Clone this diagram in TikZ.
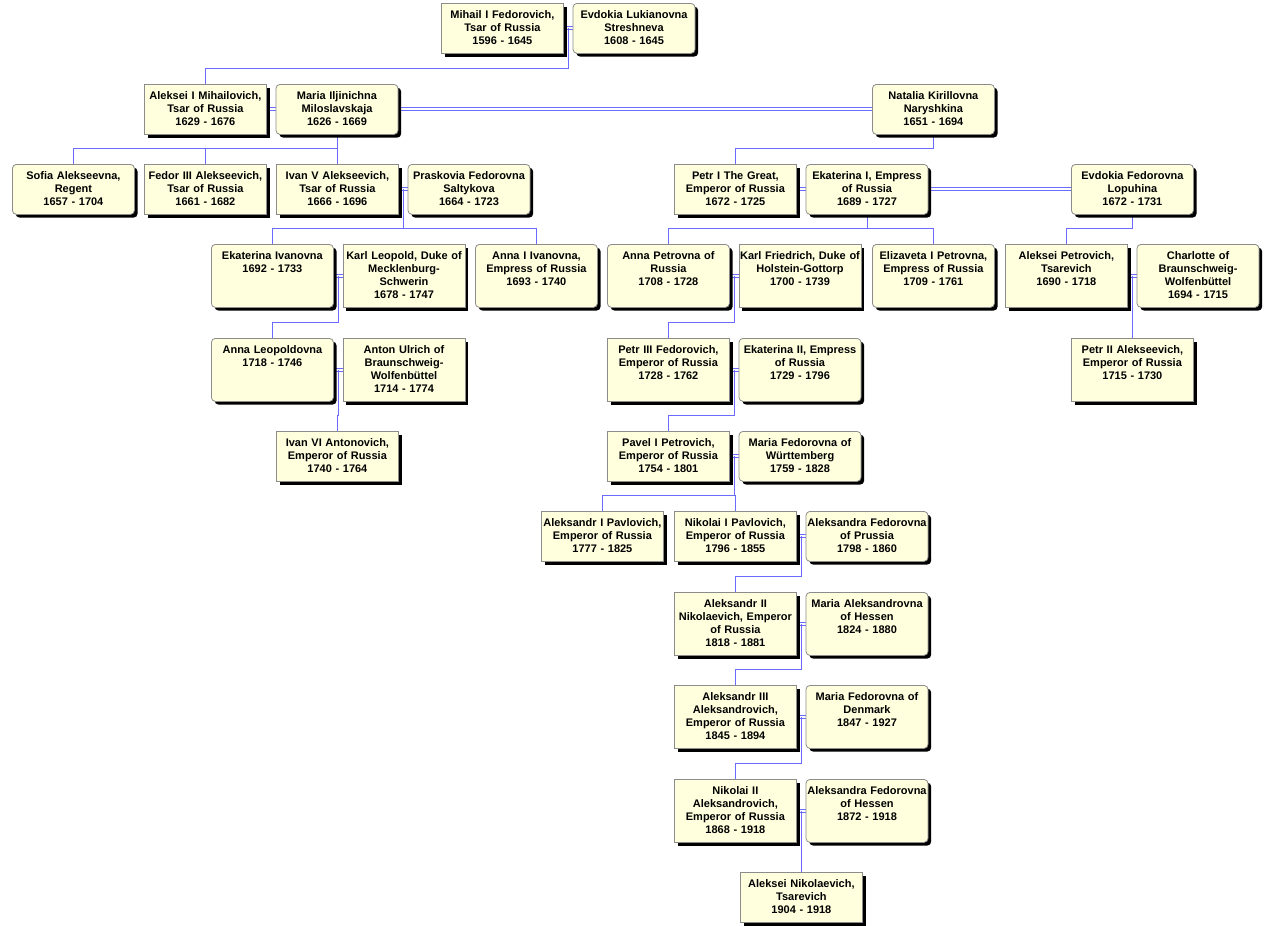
\documentclass[tikz,border=0pt]{standalone}
\usepackage{fontspec}
\setmainfont{Liberation Sans}
\usepackage{tikz}
\usetikzlibrary{positioning, calc, shadows, backgrounds}

\definecolor{boxfill}{HTML}{FFFFDE}
\definecolor{boxline}{HTML}{8C8C8C}
\definecolor{linkblue}{HTML}{6B6BFF}

\begin{document}
\begin{tikzpicture}[
        x=0.75pt, y=-0.75pt,
        person/.style={draw=boxline, fill=boxfill, line width=0.6pt, font=\bfseries\fontsize{8.25pt}{9.75pt}\selectfont,
            align=center, text width=91.5pt, inner xsep=0pt, inner ysep=5.25pt, text height=6pt, text depth=21pt,
            anchor=north west, drop shadow={shadow xshift=2.4pt, shadow yshift=-2.4pt, fill=black, opacity=1}},
        man/.style={person, sharp corners},
        woman/.style={person, rounded corners=3pt},
        tall/.style={text depth=30.75pt},
        kin/.style={draw=linkblue, line width=0.75pt},
        wed/.style={draw=linkblue, line width=0.75pt, double=white, double distance=1.5pt},
    ]
    \useasboundingbox (0,0) rectangle (1270,925);

    % Mihail I
    \node[man] (mihail) at (441,3) {Mihail I Fedorovich,\\Tsar of Russia\\1596 - 1645};
    \node[woman, right=6.6pt of mihail] (evdokiaS) {Evdokia Lukianovna\\Streshneva\\1608 - 1645};

    % Aleksei I and wives
    \node[man] (alekseiI) at (144,84) {Aleksei I Mihailovich,\\Tsar of Russia\\1629 - 1676};
    \node[woman, right=6.6pt of alekseiI] (mariaM) {Maria Iljinichna\\Miloslavskaja\\1626 - 1669};
    \node[woman] (natalia) at (872,84) {Natalia Kirillovna\\Naryshkina\\1651 - 1694};

    % Children of Aleksei I
    \node[woman] (sofia) at (12,164) {Sofia Alekseevna,\\Regent\\1657 - 1704};
    \node[man] (fedor) at (144,164) {Fedor III Alekseevich,\\Tsar of Russia\\1661 - 1682};
    \node[man] (ivanV) at (276,164) {Ivan V Alekseevich,\\Tsar of Russia\\1666 - 1696};
    \node[woman, right=6.6pt of ivanV] (praskovia) {Praskovia Fedorovna\\Saltykova\\1664 - 1723};
    \node[man] (petrI) at (674,164) {Petr I The Great,\\Emperor of Russia\\1672 - 1725};
    \node[woman, right=6.6pt of petrI] (ekaterinaI) {Ekaterina I, Empress\\of Russia\\1689 - 1727};
    \node[woman] (evdokiaL) at (1071,164) {Evdokia Fedorovna\\Lopuhina\\1672 - 1731};

    % Grandchildren
    \node[woman, tall] (ekaterinaIv) at (211,244) {Ekaterina Ivanovna\\1692 - 1733};
    \node[man, tall, right=6.6pt of ekaterinaIv] (karlL) {Karl Leopold, Duke of\\Mecklenburg-\\Schwerin\\1678 - 1747};
    \node[woman, tall] (annaI) at (475,244) {Anna I Ivanovna,\\Empress of Russia\\1693 - 1740};
    \node[woman, tall] (annaP) at (607,244) {Anna Petrovna of\\Russia\\1708 - 1728};
    \node[man, tall, right=6.6pt of annaP] (karlF) {Karl Friedrich, Duke of\\Holstein-Gottorp\\1700 - 1739};
    \node[woman, tall] (elizaveta) at (872,244) {Elizaveta I Petrovna,\\Empress of Russia\\1709 - 1761};
    \node[man, tall] (alekseiP) at (1005,244) {Aleksei Petrovich,\\Tsarevich\\1690 - 1718};
    \node[woman, tall, right=6.6pt of alekseiP] (charlotte) {Charlotte of\\Braunschweig-\\Wolfenbüttel\\1694 - 1715};

    \node[woman, tall] (annaL) at (211,338) {Anna Leopoldovna\\1718 - 1746};
    \node[man, tall, right=6.6pt of annaL] (anton) {Anton Ulrich of\\Braunschweig-\\Wolfenbüttel\\1714 - 1774};
    \node[man, tall] (petrIII) at (607,338) {Petr III Fedorovich,\\Emperor of Russia\\1728 - 1762};
    \node[woman, tall, right=6.6pt of petrIII] (ekaterinaII) {Ekaterina II, Empress\\of Russia\\1729 - 1796};
    \node[man, tall] (petrII) at (1071,338) {Petr II Alekseevich,\\Emperor of Russia\\1715 - 1730};

    \node[man] (ivanVI) at (276,431) {Ivan VI Antonovich,\\Emperor of Russia\\1740 - 1764};
    \node[man] (pavel) at (607,431) {Pavel I Petrovich,\\Emperor of Russia\\1754 - 1801};
    \node[woman, right=6.6pt of pavel] (mariaW) {Maria Fedorovna of\\Württemberg\\1759 - 1828};

    % Pavel's line
    \node[man] (aleksandrI) at (541,511) {Aleksandr I Pavlovich,\\Emperor of Russia\\1777 - 1825};
    \node[man] (nikolaiI) at (674,511) {Nikolai I Pavlovich,\\Emperor of Russia\\1796 - 1855};
    \node[woman, right=6.6pt of nikolaiI] (aleksandraP) {Aleksandra Fedorovna\\of Prussia\\1798 - 1860};
    \node[man, tall] (aleksandrII) at (674,592) {Aleksandr II\\Nikolaevich, Emperor\\of Russia\\1818 - 1881};
    \node[woman, tall, right=6.6pt of aleksandrII] (mariaH) {Maria Aleksandrovna\\of Hessen\\1824 - 1880};
    \node[man, tall] (aleksandrIII) at (674,685) {Aleksandr III\\Aleksandrovich,\\Emperor of Russia\\1845 - 1894};
    \node[woman, tall, right=6.6pt of aleksandrIII] (mariaD) {Maria Fedorovna of\\Denmark\\1847 - 1927};
    \node[man, tall] (nikolaiII) at (674,779) {Nikolai II\\Aleksandrovich,\\Emperor of Russia\\1868 - 1918};
    \node[woman, tall, right=6.6pt of nikolaiII] (aleksandraH) {Aleksandra Fedorovna\\of Hessen\\1872 - 1918};
    \node[man] (alekseiN) at (740,872) {Aleksei Nikolaevich,\\Tsarevich\\1904 - 1918};

    \begin{scope}[on background layer]
    % Marriages
    \draw[wed] (mihail) -- (evdokiaS);
    \draw[wed] (alekseiI) -- (mariaM);
    \draw[wed] (mariaM) -- (natalia);
    \draw[wed] (ivanV) -- (praskovia);
    \draw[wed] (petrI) -- (ekaterinaI);
    \draw[wed] (ekaterinaI) -- (evdokiaL);
    \draw[wed] (ekaterinaIv) -- (karlL);
    \draw[wed] (annaP) -- (karlF);
    \draw[wed] (alekseiP) -- (charlotte);
    \draw[wed] (annaL) -- (anton);
    \draw[wed] (petrIII) -- (ekaterinaII);
    \draw[wed] (pavel) -- (mariaW);
    \draw[wed] (nikolaiI) -- (aleksandraP);
    \draw[wed] (aleksandrII) -- (mariaH);
    \draw[wed] (aleksandrIII) -- (mariaD);
    \draw[wed] (nikolaiII) -- (aleksandraH);

    % Marriage points
    \coordinate (m0) at ($(mihail.east)!.5!(evdokiaS.west)$);
    \coordinate (m1) at ($(ivanV.east)!.5!(praskovia.west)$);
    \coordinate (m2) at ($(ekaterinaIv.east)!.5!(karlL.west)$);
    \coordinate (m3) at ($(annaL.east)!.5!(anton.west)$);
    \coordinate (m4) at ($(annaP.east)!.5!(karlF.west)$);
    \coordinate (m5) at ($(petrIII.east)!.5!(ekaterinaII.west)$);
    \coordinate (m6) at ($(pavel.east)!.5!(mariaW.west)$);
    \coordinate (m7) at ($(nikolaiI.east)!.5!(aleksandraP.west)$);
    \coordinate (m8) at ($(aleksandrII.east)!.5!(mariaH.west)$);
    \coordinate (m9) at ($(aleksandrIII.east)!.5!(mariaD.west)$);
    \coordinate (m10) at ($(nikolaiII.east)!.5!(aleksandraH.west)$);
    \coordinate (m11) at ($(alekseiP.east)!.5!(charlotte.west)$);

    % Descent
    \draw[kin] (m0) |- ($(alekseiI.north)+(0,-15.5)$) -- (alekseiI.north);
    \foreach \c in {sofia, fedor, ivanV}
        \draw[kin] (mariaM.south) |- ($(\c.north)+(0,-15.5)$) -- (\c.north);
    \draw[kin] (natalia.south) |- ($(petrI.north)+(0,-15.5)$) -- (petrI.north);
    \foreach \c in {ekaterinaIv, annaI}
        \draw[kin] (m1) |- ($(\c.north)+(0,-15.5)$) -- (\c.north);
    \foreach \c in {annaP, elizaveta}
        \draw[kin] (ekaterinaI.south) |- ($(\c.north)+(0,-15.5)$) -- (\c.north);
    \draw[kin] (evdokiaL.south) |- ($(alekseiP.north)+(0,-15.5)$) -- (alekseiP.north);
    \draw[kin] (m2) |- ($(annaL.north)+(0,-15.5)$) -- (annaL.north);
    \draw[kin] (m3) |- ($(ivanVI.north)+(0,-15.5)$) -- (ivanVI.north);
    \draw[kin] (m11) |- ($(petrII.north)+(0,-15.5)$) -- (petrII.north);
    \draw[kin] (m4) |- ($(petrIII.north)+(0,-15.5)$) -- (petrIII.north);
    \draw[kin] (m5) |- ($(pavel.north)+(0,-15.5)$) -- (pavel.north);
    \foreach \c in {aleksandrI, nikolaiI}
        \draw[kin] (m6) |- ($(\c.north)+(0,-15.5)$) -- (\c.north);
    \draw[kin] (m7) |- ($(aleksandrII.north)+(0,-15.5)$) -- (aleksandrII.north);
    \draw[kin] (m8) |- ($(aleksandrIII.north)+(0,-15.5)$) -- (aleksandrIII.north);
    \draw[kin] (m9) |- ($(nikolaiII.north)+(0,-15.5)$) -- (nikolaiII.north);
    \draw[kin] (m10) |- ($(alekseiN.north)+(0,-15.5)$) -- (alekseiN.north);
    \end{scope}
\end{tikzpicture}
\end{document}
